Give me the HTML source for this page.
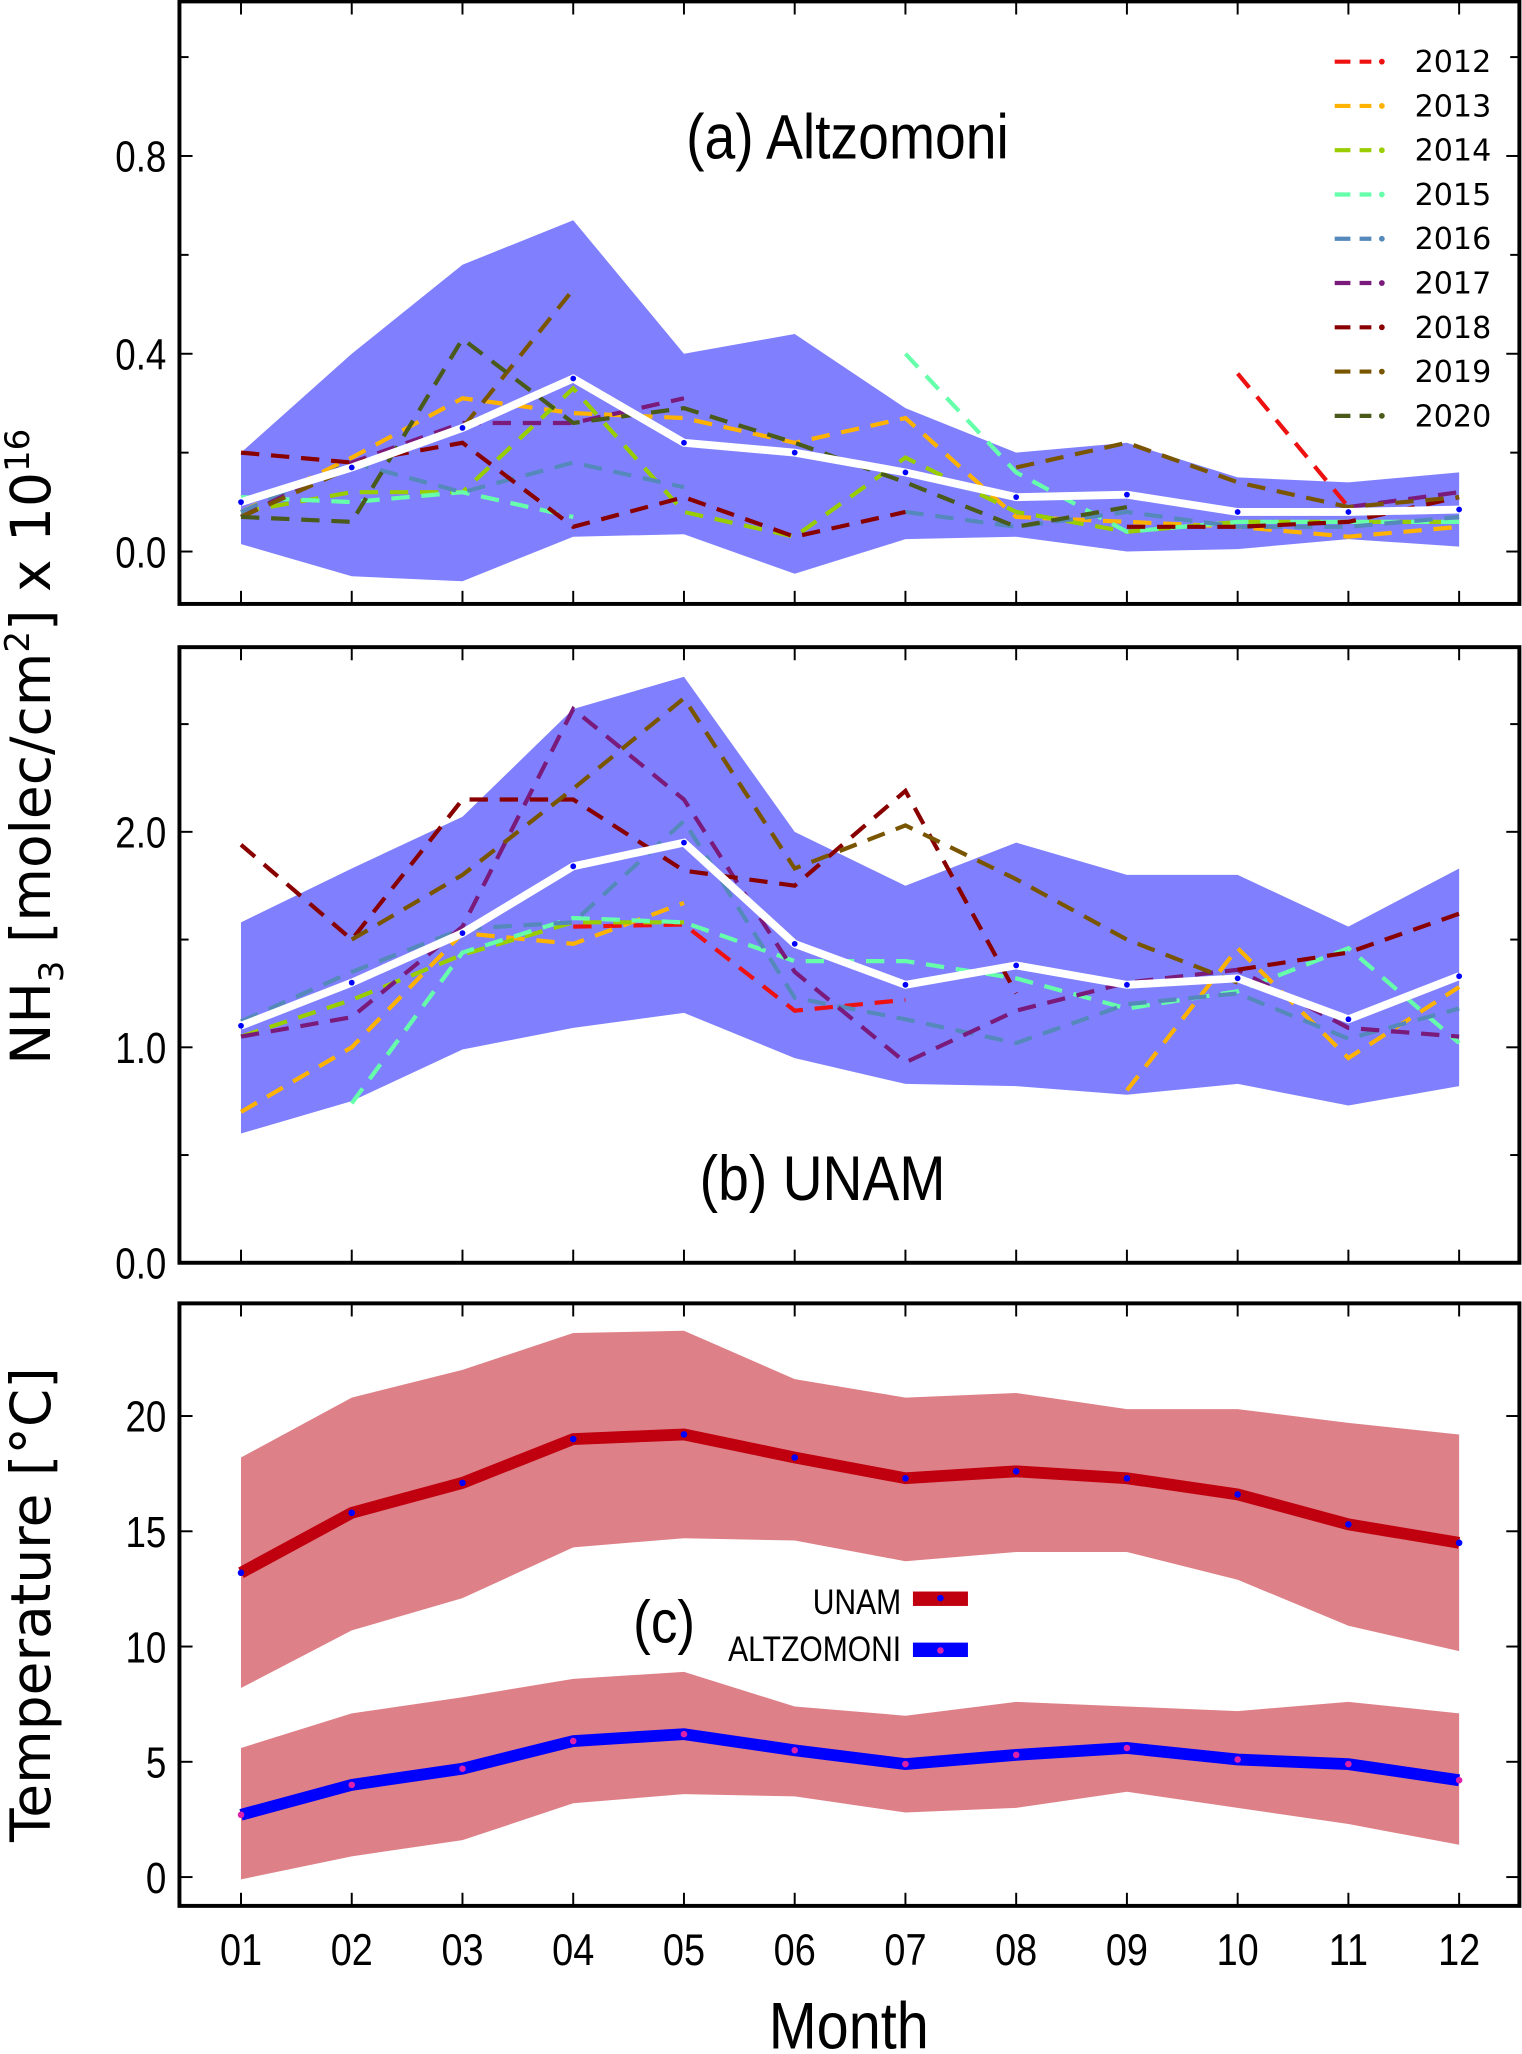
<!DOCTYPE html>
<html><head><meta charset="utf-8"><style>
html,body{margin:0;padding:0;background:#fff}
svg{display:block}
text{font-family:"Liberation Sans Narrow","Liberation Sans",sans-serif;fill:#000}
</style></head><body>
<svg id="fig" width="1522" height="2054" viewBox="0 0 1162 1568" xmlns="http://www.w3.org/2000/svg"></svg>
<script>
const months = ['01','02','03','04','05','06','07','08','09','10','11','12'];
const years = ['2012','2013','2014','2015','2016','2017','2018','2019','2020'];
const yearColors = ['#ee1111','#ffb300','#9acd00','#66ffaa','#5588bb','#7a1a7a','#880000','#7a5500','#4a5a1a'];
// Panel a: Altzomoni NH3
const aMean = [0.10,0.17,0.25,0.35,0.22,0.20,0.16,0.11,0.115,0.08,0.08,0.085];
const aUpper = [0.20,0.40,0.58,0.67,0.40,0.44,0.29,0.20,0.22,0.15,0.14,0.16];
const aLower = [0.015,-0.05,-0.06,0.03,0.035,-0.045,0.025,0.03,0.0,0.005,0.025,0.01];
const a2012 = [null,null,null,null,null,null,null,null,null,0.36,0.09,null];
const a2013 = [0.08,0.19,0.31,0.28,0.27,0.22,0.27,0.07,0.06,0.05,0.03,0.05];
const a2014 = [0.08,0.12,0.12,0.33,0.08,0.03,0.19,0.08,0.04,0.06,0.06,0.06];
const a2015 = [0.11,0.10,0.12,0.07,null,null,0.40,0.16,0.04,0.06,0.06,0.06];
const a2016 = [0.08,0.18,0.12,0.18,0.13,null,0.08,0.05,0.08,0.05,0.05,0.07];
const a2017 = [0.07,0.18,0.26,0.26,0.31,null,null,null,0.15,null,0.09,0.12];
const a2018 = [0.20,0.18,0.22,0.05,0.11,0.03,0.08,null,0.05,0.05,0.06,0.11];
const a2019 = [0.07,0.17,0.25,0.53,null,0.07,null,0.17,0.22,0.14,0.09,0.11];
const a2020 = [0.07,0.06,0.43,0.26,0.29,0.22,0.14,0.05,0.09,null,null,null];
// Panel b: UNAM NH3
const bMean = [1.10,1.30,1.53,1.84,1.95,1.48,1.29,1.38,1.29,1.32,1.13,1.33];
const bUpper = [1.58,1.83,2.07,2.57,2.72,2.00,1.75,1.95,1.80,1.80,1.56,1.83];
const bLower = [0.60,0.75,0.99,1.09,1.16,0.95,0.83,0.82,0.78,0.83,0.73,0.82];
const b2012 = [null,null,null,1.56,1.57,1.17,1.22,null,null,null,null,null];
const b2013 = [0.70,1.00,1.53,1.48,1.67,null,null,null,0.80,1.46,0.95,1.28];
const b2014 = [1.05,1.22,1.43,1.58,1.58,null,null,null,null,null,null,null];
const b2015 = [null,0.74,1.44,1.60,1.58,1.40,1.40,1.32,1.18,1.26,1.46,1.02];
const b2016 = [1.12,1.35,1.55,1.58,2.05,1.23,1.13,1.02,1.20,1.25,1.04,1.18];
const b2017 = [1.05,1.14,1.56,2.57,2.15,1.35,0.93,1.17,1.30,1.36,1.09,1.05];
const b2018 = [1.94,1.50,2.15,2.15,1.82,1.75,2.19,1.25,null,1.36,1.44,1.62];
const b2019 = [null,1.50,1.80,2.20,2.62,1.83,2.03,1.78,1.50,1.30,null,null];
const b2020 = [null,null,null,null,null,null,null,null,null,null,null,null];
// Panel c: temperature
const uMean = [13.2,15.8,17.1,19.0,19.2,18.2,17.3,17.6,17.3,16.6,15.3,14.5];
const uUpper = [18.2,20.8,22.0,23.6,23.7,21.6,20.8,21.0,20.3,20.3,19.7,19.2];
const uLower = [8.2,10.7,12.1,14.3,14.7,14.6,13.7,14.1,14.1,12.9,10.9,9.8];
const tMean = [2.7,4.0,4.7,5.9,6.2,5.5,4.9,5.3,5.6,5.1,4.9,4.2];
const tUpper = [5.6,7.1,7.8,8.6,8.9,7.4,7.0,7.6,7.4,7.2,7.6,7.1];
const tLower = [-0.1,0.9,1.6,3.2,3.6,3.5,2.8,3.0,3.7,3.0,2.3,1.4];
const aTicks = ['0.0','0.4','0.8'];
const bTicks = ['0.0','1.0','2.0'];
const cTicks = ['0','5','10','15','20'];

const NS='http://www.w3.org/2000/svg';
const svg=document.getElementById('fig');
function el(tag,attrs,parent){const e=document.createElementNS(NS,tag);for(const k in attrs)e.setAttribute(k,attrs[k]);(parent||svg).appendChild(e);return e;}
const X0=137,X1=1160;
const xs=i=>184+i*(1114-184)/11;
function mkY(v0,p0,v1,p1){return v=>p0+(v-v0)*(p1-p0)/(v1-v0);}
const panels=[
 {name:'panel-a',top:1,bot:461,y:mkY(0,421,0.8,119),ticks:aTicks,minor:[0.2,0.6,1.0]},
 {name:'panel-b',top:494,bot:964,y:mkY(0,964,2.0,635),ticks:bTicks,minor:[0.5,1.5,2.5]},
 {name:'panel-c',top:995,bot:1455,y:mkY(0,1433,20,1081),ticks:cTicks,minor:[]}
];
function band(up,lo,y,color,name){
 let d='';up.forEach((v,i)=>d+=(i?'L':'M')+xs(i)+','+y(v));
 for(let i=lo.length-1;i>=0;i--)d+='L'+xs(i)+','+y(lo[i]);
 const p=el('path',{d:d+'Z',fill:color,stroke:'none'});
 
 
}
function line(vals,y,color,w,dash,name,g){
 let d='',pen=false;
 vals.forEach((v,i)=>{if(v===null){pen=false;return;}d+=(pen?'L':'M')+xs(i)+','+y(v);pen=true;});
 const p=el('path',{d:d,fill:'none',stroke:color,'stroke-width':w,'stroke-dasharray':dash||'none'},g);
 
 
}
function dots(vals,y,color,r,name,g){
 vals.forEach((v,i)=>{if(v===null)return;const c=el('circle',{cx:xs(i),cy:y(v),r:r,fill:color},g);
 
 });
}
function frame(p){
 const g=el('g',{});
 
 
 el('rect',{x:X0,y:p.top,width:X1-X0,height:p.bot-p.top,fill:'none',stroke:'#000','stroke-width':3},g);
 months.forEach((m,i)=>{el('line',{x1:xs(i),x2:xs(i),y1:p.top,y2:p.top+10,stroke:'#000','stroke-width':1.5},g);el('line',{x1:xs(i),x2:xs(i),y1:p.bot,y2:p.bot-10,stroke:'#000','stroke-width':1.5},g);});
 p.ticks.forEach(t=>{const yy=p.y(parseFloat(t));
  el('line',{x1:X0,x2:X0+10,y1:yy,y2:yy,stroke:'#000','stroke-width':1.5},g);
  el('line',{x1:X1,x2:X1-10,y1:yy,y2:yy,stroke:'#000','stroke-width':1.5},g);
  const tx=el('text',{x:0,y:0,'font-size':33,'text-anchor':'end',transform:'translate('+(X0-10)+','+(yy+12)+') scale(0.85,1)'},g);tx.textContent=t;
  
  });
 p.minor.forEach(v=>{const yy=p.y(v);
  el('line',{x1:X0,x2:X0+7,y1:yy,y2:yy,stroke:'#000','stroke-width':1.5},g);
  el('line',{x1:X1,x2:X1-7,y1:yy,y2:yy,stroke:'#000','stroke-width':1.5},g);});
}
// Panel a
const pa=panels[0];
band(aUpper,aLower,pa.y,'#8080ff','band-altzomoni-nh3');
const aYears=[a2012,a2013,a2014,a2015,a2016,a2017,a2018,a2019,a2020];
aYears.forEach((s,k)=>{line(s,pa.y,yearColors[k],3.2,'14,9','line-a-'+years[k]);});
line(aMean,pa.y,'#ffffff',6,null,'mean-line-altzomoni');
dots(aMean,pa.y,'#0000ff',2.2,'mean-point-a');
frame(pa);
// Panel b
const pb=panels[1];
band(bUpper,bLower,pb.y,'#8080ff','band-unam-nh3');
const bYears=[b2012,b2013,b2014,b2015,b2016,b2017,b2018,b2019,b2020];
bYears.forEach((s,k)=>{line(s,pb.y,yearColors[k],3.2,'14,9','line-b-'+years[k]);});
line(bMean,pb.y,'#ffffff',6,null,'mean-line-unam');
dots(bMean,pb.y,'#0000ff',2.2,'mean-point-b');
frame(pb);
// Panel c
const pc=panels[2];
band(uUpper,uLower,pc.y,'#de8088','band-unam-temp');
band(tUpper,tLower,pc.y,'#de8088','band-altzomoni-temp');
line(uMean,pc.y,'#c0000e',9,null,'line-unam-temp');
dots(uMean,pc.y,'#0000ff',2.5,'point-unam-temp');
line(tMean,pc.y,'#0000ff',9,null,'line-altzomoni-temp');
dots(tMean,pc.y,'#dd22aa',2.5,'point-altzomoni-temp');
frame(pc);
// x tick labels
months.forEach((m,i)=>{const t=el('text',{x:0,y:0,'font-size':34,'text-anchor':'middle',transform:'translate('+xs(i)+',1500) scale(0.85,1)'});t.textContent=m;
 
 });
// Legend a
years.forEach((yr,k)=>{const yy=47+k*33.8;
 const g=el('g',{});
 
 
 el('line',{x1:1019,x2:1047,y1:yy,y2:yy,stroke:yearColors[k],'stroke-width':3.2,'stroke-dasharray':'12,7'},g);
 el('circle',{cx:1055,cy:yy,r:2.2,fill:yearColors[k]},g);
 const t=el('text',{x:1080,y:yy+8,'font-size':23,style:'font-family:"DejaVu Sans",sans-serif'},g);t.textContent=yr;});
</script>
<svg style="position:absolute;left:0;top:0" width="1522" height="2054" viewBox="0 0 1162 1568" xmlns="http://www.w3.org/2000/svg">
<text transform="translate(647,121) scale(0.88,1)" font-size="48" text-anchor="middle">(a) Altzomoni</text>
<text transform="translate(628,916) scale(0.88,1)" font-size="48" text-anchor="middle">(b) UNAM</text>
<text transform="translate(507,1254) scale(0.88,1)" font-size="46" text-anchor="middle">(c)</text>
<g>
<text transform="translate(688,1232) scale(0.85,1)" font-size="27" text-anchor="end">UNAM</text>
<rect x="697" y="1215" width="42" height="11" fill="#c0000e"/>
<circle cx="718" cy="1220" r="2.5" fill="#0000ff"/>
<text transform="translate(688,1268) scale(0.85,1)" font-size="27" text-anchor="end">ALTZOMONI</text>
<rect x="697" y="1254" width="42" height="11" fill="#0000ff"/>
<circle cx="718" cy="1260" r="2.5" fill="#dd22aa"/>
</g>
<text transform="translate(38,570) rotate(-90)" font-size="42" text-anchor="middle" style='font-family:"DejaVu Sans",sans-serif'>NH<tspan font-size="26" dy="10">3</tspan><tspan dy="-10"> [molec/cm</tspan><tspan font-size="26" dy="-16">2</tspan><tspan dy="16">] x 10</tspan><tspan font-size="26" dy="-16">16</tspan></text>
<text transform="translate(38,1225) rotate(-90)" font-size="42" text-anchor="middle" style='font-family:"DejaVu Sans",sans-serif'>Temperature [°C]</text>
<text transform="translate(648,1564) scale(0.88,1)" font-size="50" text-anchor="middle">Month</text>
</svg>
</body></html>
